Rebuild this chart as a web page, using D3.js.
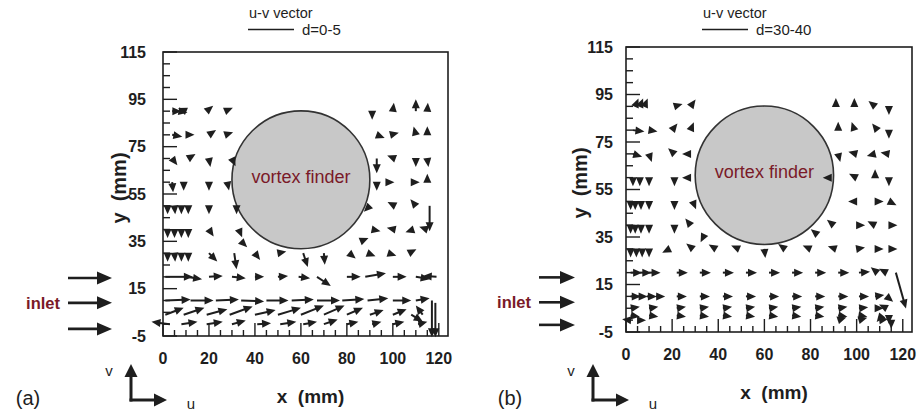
<!DOCTYPE html>
<html>
<head>
<meta charset="utf-8">
<script src="https://cdn.jsdelivr.net/npm/d3@7"></script>
<style>
  body { margin: 0; background: #fff; }
  svg { display: block; font-family: Arial, "Liberation Sans", sans-serif; }
</style>
</head>
<body>
<svg></svg>
<script>
// axis ticks (mm)
const xTicks = [0, 20, 40, 60, 80, 100, 120];
const yTicks = [-5, 15, 35, 55, 75, 95, 115];

// vortex finder outline (mm)
const finderCenter = [60, 61];
const finderRadius = 30;

// inlet arrow heights (mm)
const inletYA = [19.5, 9, -2];
const inletYB = [18, 7.5, -2];

// velocity vectors [x, y, u, v], u/v relative to the reference line
const vectorsAUpper = [
    [4, 90, 0.2, 0], [7, 90, 0.15, -0.03], [10, 90, -0.1, 0.04], [19, 90, 0.12, 0.1], [27, 90, 0.14, 0.06],
    [91, 90, 0, -0.14], [100, 90, 0.02, 0.16], [110, 90, 0, 0.26], [115, 90, 0.01, 0.15],
    [4, 80, 0.22, -0.04], [10, 80, 0.13, 0], [20, 80, 0.12, 0.08], [27, 80, 0.15, 0.05],
    [93, 80, 0.13, -0.05], [99, 80, 0.16, 0.04], [110, 80, -0.04, 0.15], [115, 80, 0, 0.16],
    [4, 70, 0.1, -0.13], [11, 70, 0.13, 0.08], [20, 70, 0.03, -0.18], [30, 70, 0.06, -0.13],
    [93, 70, 0, -0.32], [101, 70, -0.13, 0.05], [110, 70, 0, -0.16], [115, 70, 0.02, -0.15],
    [4, 60, 0.02, -0.22], [9, 60, 0, -0.1], [20, 60, 0, -0.18], [28, 60, 0.02, -0.1],
    [93, 60, 0, -0.1], [97, 60, 0.15, 0], [108, 60, 0.16, 0], [115, 60, 0, 0.15],
    [2, 50, 0, -0.12], [5, 50, 0.01, -0.12], [8, 50, 0, -0.12], [11, 50, 0, -0.1], [20, 50, 0, -0.16], [32, 50, 0, -0.1],
    [90, 50, -0.1, -0.1], [101, 50, -0.12, 0.06], [110, 50, -0.1, 0.12], [116, 50, 0, -0.55],
    [2, 40, 0, -0.12], [5, 40, 0, -0.12], [8, 40, 0, -0.12], [11, 40, 0, -0.1], [20, 40, 0.08, -0.12], [33, 40, 0.05, -0.12],
    [91, 40, 0.15, -0.03], [101, 40, -0.15, 0.03], [109, 40, -0.15, -0.05], [115, 40, -0.15, 0.05],
    [34, 35, 0.12, -0.12], [86, 35, 0.12, 0.05]
];
const vectorsALower = [
    [2, 30, 0, -0.12], [5, 30, 0.01, -0.12], [8, 30, 0, -0.12], [11, 30, 0, -0.1], [20, 30, 0.18, -0.18],
    [31, 30, 0.05, -0.35], [40, 30, 0.1, -0.13], [50, 30, 0.16, 0.03], [61, 30, 0.1, -0.3], [70, 30, 0.02, -0.25],
    [81, 30, 0.12, -0.1], [89, 30, 0.13, -0.05], [98, 30, 0.16, -0.05], [107, 30, 0.15, 0.08],
    [1, 20, 0.6, 0], [10, 20, 0.35, -0.05], [20, 20, 0.3, 0.02], [30, 20, 0.3, -0.03], [40, 20, 0.2, 0],
    [50, 20, 0.22, 0.02], [59, 20, 0.25, -0.03], [67, 20, 0.3, -0.2], [80, 20, 0.3, 0], [88, 20, 0.45, 0.08],
    [100, 20, 0.3, 0], [110, 20, 0.3, -0.05], [119, 20, -0.3, 0.02],
    [1, 10, 0.55, 0.02], [12, 10, 0.5, 0], [23, 10, 0.5, 0.02], [34, 10, 0.5, -0.02], [45, 10, 0.48, 0],
    [56, 10, 0.48, 0.02], [67, 10, 0.5, 0], [78, 10, 0.48, 0.03], [89, 10, 0.45, 0.05], [100, 10, 0.4, 0], [110, 10, 0.3, 0.05],
    [1, 4, 0.4, 0.15], [9, 4, 0.45, 0.15], [19, 4, 0.45, 0.12], [29, 4, 0.5, 0.18], [40, 4, 0.45, 0.1],
    [50, 4, 0.5, 0.15], [60, 4, 0.5, 0.2], [70, 4, 0.45, 0.2], [80, 4, 0.35, 0.15], [90, 4, 0.3, 0.1],
    [100, 4, 0.3, 0.12], [108, 4, 0.25, -0.15], [113, 4, -0.15, 0.2],
    [3, 0, -0.4, 0.05], [8, 0, 0.35, 0.05], [19, 0, 0.35, 0.05], [30, 0, 0.3, 0.08], [41, 0, 0.3, 0.02],
    [51, 0, 0.35, 0.05], [61, 0, 0.3, 0.05], [70, 0, 0.3, 0.1], [80, 0, 0.25, 0.05], [91, 0, 0.2, 0.05],
    [100, 0, 0.25, 0.05], [111, 0, 0.2, 0.05],
    [117, 10, 0, -0.8], [118.5, 9, 0, -0.75]
];
const vectorsBUpper = [
    [4, 90, 0.05, 0.12], [6, 90, 0.05, 0.12], [8, 90, 0.05, 0.12], [21, 90, 0.13, 0.04], [28, 90, 0.08, 0.11],
    [91, 90, 0, 0.13], [99, 90, 0, 0.13], [108, 90, -0.1, 0.08], [114, 90, 0, -0.13],
    [3, 80, 0.25, -0.03], [10, 80, 0.13, -0.02], [20, 80, 0.08, 0.1], [28, 80, 0.05, 0.12],
    [92, 80, 0, 0.12], [99, 80, -0.04, 0.12], [109, 80, -0.08, 0.1], [114, 80, 0, -0.13],
    [3, 70, 0.2, -0.06], [10, 70, 0.04, -0.12], [21, 70, -0.1, 0.09], [28, 70, -0.12, 0],
    [92, 70, 0.03, -0.12], [100, 70, -0.12, 0.03], [108, 70, -0.12, -0.03], [114, 70, -0.12, 0.02],
    [3, 60, 0, -0.12], [6, 60, 0, -0.12], [10, 60, 0, -0.12], [21, 60, 0, -0.13], [28, 60, -0.08, 0],
    [89, 60, -0.08, 0], [100, 60, -0.1, 0.05], [108, 60, 0, 0.12], [114, 60, 0, -0.12],
    [2, 50, 0, -0.12], [4, 50, 0, -0.12], [6.5, 50, 0, -0.12], [10, 50, 0, -0.12], [21, 50, 0, -0.13], [29, 50, 0.04, -0.1],
    [100, 50, -0.12, 0], [108, 50, 0.14, 0], [114, 50, 0.1, -0.05],
    [2, 40, 0, -0.12], [4, 40, 0, -0.12], [6.5, 40, 0, -0.12], [10, 40, 0, -0.12], [21, 40, 0, -0.13], [28, 40, -0.08, 0.1],
    [90, 40, -0.1, 0.08], [100, 40, 0.14, 0], [108, 40, -0.1, 0.05], [114, 40, 0.12, 0],
    [34, 36, -0.05, -0.1], [83, 36, -0.1, 0.08]
];
const vectorsBLower = [
    [2, 30, 0, -0.12], [4.5, 30, 0, -0.12], [7, 30, 0, -0.12], [10, 30, 0, -0.12], [19, 30, -0.1, -0.05],
    [29, 30, -0.1, 0.08], [39, 30, -0.1, 0.06], [49, 30, -0.12, 0.05], [60, 30, 0.02, -0.2], [69, 30, -0.1, 0.07],
    [80, 30, -0.12, 0.05], [91, 30, -0.12, 0.04], [100, 30, 0.12, 0.02], [108, 30, 0.14, 0], [114, 30, 0.14, 0],
    [2, 20, 0.25, 0], [6, 20, 0.25, 0], [10, 20, 0.25, 0], [22, 20, 0.24, 0], [32, 20, 0.24, 0], [42, 20, 0.24, 0],
    [52, 20, 0.24, 0], [62, 20, 0.24, 0], [72, 20, 0.24, 0], [82, 20, 0.24, 0], [92, 20, 0.24, 0],
    [101, 20, 0.24, 0.02], [109, 20, -0.1, 0.08], [113, 20, -0.1, 0.05], [117, 20, 0.22, -0.78],
    [2, 10, 0.22, 0], [5, 10, 0.22, 0], [9, 10, 0.22, 0], [13, 10, 0.2, 0], [22, 10, 0.22, 0], [32, 10, 0.22, 0],
    [42, 10, 0.22, 0], [52, 10, 0.22, 0], [62, 10, 0.22, 0], [72, 10, 0.22, 0], [82, 10, 0.22, 0], [92, 10, 0.22, 0],
    [101, 10, 0.22, 0], [108, 10, 0.2, 0.03], [113, 10, 0.12, -0.1],
    [2, 5, 0.2, 0.03], [10, 5, 0.2, 0.03], [22, 5, 0.2, 0.03], [32, 5, 0.2, 0.03], [42, 5, 0.2, 0.03],
    [52, 5, 0.2, 0.03], [62, 5, 0.2, 0.03], [72, 5, 0.2, 0.03], [82, 5, 0.2, 0.03], [92, 5, 0.2, 0.03],
    [101, 5, 0.2, 0.02], [108, 5, 0.15, 0], [113, 5, -0.1, 0.05],
    [2, 2, 0.2, -0.03], [10, 2, 0.2, -0.03], [22, 2, 0.2, -0.03], [32, 2, 0.2, -0.03], [42, 2, 0.2, -0.03],
    [52, 2, 0.2, -0.03], [62, 2, 0.2, -0.03], [72, 2, 0.2, -0.03], [82, 2, 0.2, -0.03], [92, 2, 0.2, -0.03],
    [101, 2, 0.18, -0.03], [111, 2, -0.08, -0.1], [114, 2, 0, -0.15],
    [2, 0, -0.18, 0.02], [5, 0, 0.15, 0], [92, 0, 0.15, 0.05], [101, 0, 0.18, 0.05], [110, 0, 0.15, 0.02], [115, 0, 0, -0.15]
];

const svg = d3.select("svg").attr("width", 919).attr("height", 412);
const ink = "#1e1e1e";
const maroon = "#7a1a28";

// arrow length for one reference unit (same as the legend line)
const vecScale = d3.scaleLinear().domain([0, 1]).range([0, 46]);

function arrow(g, x1, y1, x2, y2, w, headLen, headW) {
    const len = Math.hypot(x2 - x1, y2 - y1);
    const ux = (x2 - x1) / len, uy = (y2 - y1) / len;
    if (len > headLen) {
        g.append("line")
            .attr("x1", x1).attr("y1", y1)
            .attr("x2", x2 - ux * headLen * 0.7).attr("y2", y2 - uy * headLen * 0.7)
            .attr("stroke", ink).attr("stroke-width", w);
    }
    const bx = x2 - ux * headLen, by = y2 - uy * headLen;
    g.append("path")
        .attr("d", `M${x2},${y2}L${bx - uy * headW},${by + ux * headW}L${bx + uy * headW},${by - ux * headW}Z`)
        .attr("fill", ink);
}

function drawPanel(p) {
    const x = d3.scaleLinear().domain([0, 124]).range([p.left, p.right]);
    const y = d3.scaleLinear().domain([-5, 115]).range([p.bottom, p.top]);
    const g = svg.append("g");

    // vortex finder
    g.append("circle")
        .attr("cx", x(finderCenter[0]))
        .attr("cy", y(finderCenter[1]))
        .attr("r", x(finderRadius) - x(0))
        .attr("fill", "#c8c8c8")
        .attr("stroke", "#333")
        .attr("stroke-width", 1.6);
    g.append("text")
        .attr("x", x(finderCenter[0]))
        .attr("y", y(finderCenter[1]) + 3)
        .attr("text-anchor", "middle")
        .style("font-size", "18px")
        .style("fill", maroon)
        .text("vortex finder");

    // vectors
    const vg = g.append("g");
    p.vectors.forEach(d => {
        const x0 = x(d[0]), y0 = y(d[1]);
        const dx = vecScale(d[2]), dy = -vecScale(d[3]);
        const len = Math.hypot(dx, dy);
        const L = Math.max(len, 8.5);
        arrow(vg, x0, y0, x0 + dx / len * L, y0 + dy / len * L, 2, 9, 4);
    });

    // frame
    g.append("rect")
        .attr("x", p.left).attr("y", p.top)
        .attr("width", p.right - p.left).attr("height", p.bottom - p.top)
        .attr("fill", "none").attr("stroke", ink).attr("stroke-width", 1.6);

    // left ticks (inside), every 5 mm
    d3.range(-5, 116, 5).forEach(v => {
        const major = yTicks.includes(v);
        g.append("line")
            .attr("x1", p.left).attr("x2", p.left + (major ? 14 : 7))
            .attr("y1", y(v)).attr("y2", y(v))
            .attr("stroke", ink).attr("stroke-width", 1.4);
    });
    // bottom ticks (inside)
    d3.range(0, 121, 5).forEach(v => {
        const major = xTicks.includes(v);
        g.append("line")
            .attr("x1", x(v)).attr("x2", x(v))
            .attr("y1", p.bottom).attr("y2", p.bottom - (major ? 13 : 6))
            .attr("stroke", ink).attr("stroke-width", 1.4);
    });

    g.selectAll(".ylab").data(yTicks).enter().append("text")
        .attr("x", p.left - p.yLabGap)
        .attr("y", d => y(d))
        .attr("dy", "0.36em")
        .attr("text-anchor", "end")
        .style("font-size", "16px").style("font-weight", "bold").style("fill", ink)
        .text(d => d);
    g.selectAll(".xlab").data(xTicks).enter().append("text")
        .attr("x", d => x(d))
        .attr("y", p.bottom + 28)
        .attr("text-anchor", "middle")
        .style("font-size", "16px").style("font-weight", "bold").style("fill", ink)
        .text(d => d);

    // axis titles
    g.append("text")
        .attr("x", (p.left + p.right) / 2 + 5).attr("y", p.bottom + 67)
        .attr("text-anchor", "middle")
        .style("font-size", "19px").style("font-weight", "bold").style("fill", ink)
        .attr("xml:space", "preserve")
        .text("x  (mm)");
    g.append("text")
        .attr("transform", `translate(${p.yTitleX},${p.top + 136}) rotate(-90)`)
        .attr("text-anchor", "middle")
        .style("font-size", "20px").style("font-weight", "bold").style("fill", ink)
        .attr("xml:space", "preserve")
        .text("y  (mm)");

    // legend: u-v vector reference
    g.append("text")
        .attr("x", p.legendX + 1).attr("y", 18)
        .style("font-size", "14.5px").style("fill", ink)
        .text("u-v vector");
    g.append("line")
        .attr("x1", p.legendX).attr("x2", p.legendX + vecScale(1))
        .attr("y1", 29.5).attr("y2", 29.5)
        .attr("stroke", ink).attr("stroke-width", 1.5);
    g.append("text")
        .attr("x", p.legendX + vecScale(1) + 8).attr("y", 35)
        .style("font-size", "15px").style("fill", ink)
        .text(p.depth);

    // inlet arrows
    p.inlet.forEach(v => {
        arrow(g, p.inletX[0], y(v), p.inletX[1], y(v), 2.6, 15, 6.5);
    });
    g.append("text")
        .attr("x", p.inletX[0] - 8).attr("y", y(p.inlet[1]) + 6)
        .attr("text-anchor", "end")
        .style("font-size", "16.5px").style("font-weight", "bold").style("fill", maroon)
        .text("inlet");

    // u-v direction key
    const kx = p.keyX, ky = 400;
    arrow(g, kx, ky + 1.5, kx, ky - 36, 3, 13, 6.5);
    arrow(g, kx - 1.5, ky, kx + 36, ky, 3, 13, 6.5);
    g.append("text").attr("x", kx - 22).attr("y", ky - 24)
        .attr("text-anchor", "middle")
        .style("font-size", "15px").style("fill", ink).text("v");
    g.append("text").attr("x", kx + 60).attr("y", ky + 9)
        .attr("text-anchor", "middle")
        .style("font-size", "15px").style("fill", ink).text("u");
    g.append("text").attr("x", p.tagX).attr("y", ky + 5)
        .attr("text-anchor", "middle")
        .style("font-size", "20px").style("fill", ink).text(p.tag);
}

drawPanel({
    left: 163, right: 448, top: 52, bottom: 336, yLabGap: 17, yTitleX: 126,
    vectors: vectorsAUpper.concat(vectorsALower),
    depth: "d=0-5", legendX: 248, inlet: inletYA, inletX: [68, 112],
    keyX: 131, tagX: 28, tag: "(a)"
});
drawPanel({
    left: 626, right: 912, top: 47, bottom: 332, yLabGap: 13, yTitleX: 587,
    vectors: vectorsBUpper.concat(vectorsBLower),
    depth: "d=30-40", legendX: 702, inlet: inletYB, inletX: [539, 575],
    keyX: 593, tagX: 510, tag: "(b)"
});
</script>
</body>
</html>
